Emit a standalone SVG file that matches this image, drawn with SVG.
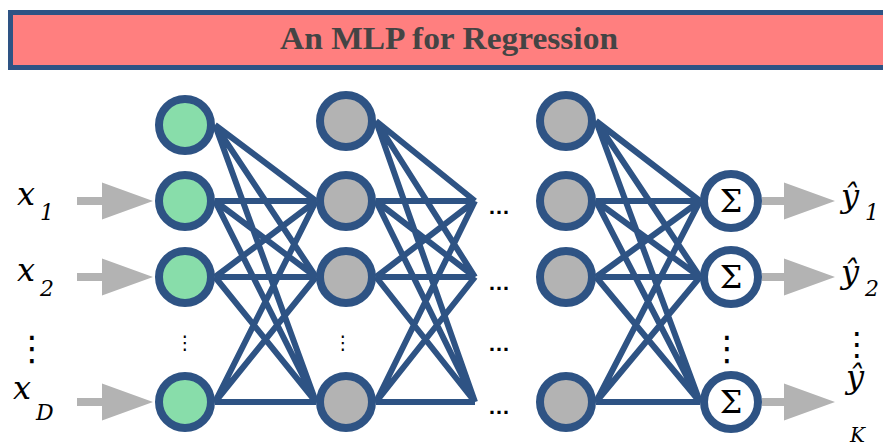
<svg xmlns="http://www.w3.org/2000/svg" width="883" height="446" viewBox="0 0 883 446">
<style>
.edge{stroke:#2E5384;stroke-width:6;fill:none}
.in{fill:#88DDAA;stroke:#2E5384;stroke-width:8}
.hid{fill:#B3B3B3;stroke:#2E5384;stroke-width:8}
.out{fill:#FFFFFF;stroke:#2E5384;stroke-width:8}
.arr{fill:#B3B3B3}
.math{font-family:"DejaVu Serif",serif;font-style:italic;fill:#000}
.sig{font-family:"DejaVu Serif",serif;font-size:32px;fill:#000;text-anchor:middle}
.vd{font-family:"DejaVu Sans",sans-serif;fill:#000;text-anchor:middle}
.hd{font-family:"Liberation Sans",sans-serif;font-weight:bold;font-size:22px;fill:#000}
</style>
<defs>
<path id="arrowIn" d="M0,-4 H25 V-18.5 L76,0 L25,18.5 V4 H0 Z"/>
</defs>
<g id="title">
<rect x="10.5" y="12.5" width="890" height="55" fill="#FF7F7F" stroke="#2E5384" stroke-width="5"/>
<text x="449" y="49" text-anchor="middle" font-family="'Liberation Serif',serif" font-weight="bold" font-size="31" fill="#444444" textLength="338" lengthAdjust="spacingAndGlyphs">An MLP for Regression</text>
</g>
<g id="connectors">
<path class="edge" d="M215,125 L316,201 M215,125 L316,277 M215,125 L316,402 M215,201 L316,201 M215,201 L316,277 M215,201 L316,402 M215,277 L316,201 M215,277 L316,277 M215,277 L316,402 M215,402 L316,201 M215,402 L316,277 M215,402 L316,402"/>
<path class="edge" d="M376,121 L475,201 M376,121 L475,277 M376,121 L475,402 M376,201 L475,201 M376,201 L475,277 M376,201 L475,402 M376,277 L475,201 M376,277 L475,277 M376,277 L475,402 M376,402 L475,201 M376,402 L475,277 M376,402 L475,402"/>
<path class="edge" d="M596,121 L700,201 M596,121 L700,277 M596,121 L700,402 M596,201 L700,201 M596,201 L700,277 M596,201 L700,402 M596,277 L700,201 M596,277 L700,277 M596,277 L700,402 M596,402 L700,201 M596,402 L700,277 M596,402 L700,402"/>
<use href="#arrowIn" class="arr" x="77" y="201"/>
<use href="#arrowIn" class="arr" x="77" y="277"/>
<use href="#arrowIn" class="arr" x="77" y="402"/>
<path class="arr" d="M762,197 H784 V182.5 L835,201 L784,219.5 V205 H762 Z"/>
<path class="arr" d="M762,273 H784 V258.5 L835,277 L784,295.5 V281 H762 Z"/>
<path class="arr" d="M762,398 H784 V383.5 L835,402 L784,420.5 V406 H762 Z"/>
</g>
<g id="input-labels">
<text class="math" x="17" y="205" font-size="32">x</text><text class="math" x="40" y="220" font-size="22">1</text>
<text class="math" x="17" y="281" font-size="32">x</text><text class="math" x="40" y="296" font-size="22">2</text>
<text class="vd" x="32" y="360" font-size="34">⋮</text>
<text class="math" x="13" y="399" font-size="32">x</text><text class="math" x="36" y="420" font-size="22">D</text>
</g>
<g id="input-layer">
<circle id="in0" class="in" cx="185" cy="125" r="26"/>
<circle id="in1" class="in" cx="185" cy="201" r="26"/>
<circle id="in2" class="in" cx="185" cy="277" r="26"/>
<text class="vd" x="185" y="349" font-size="19">⋮</text>
<circle id="in3" class="in" cx="185" cy="402" r="26"/>
</g>
<g id="hidden-layer-1">
<circle class="hid" cx="346" cy="121" r="26"/>
<circle class="hid" cx="346" cy="201" r="26"/>
<circle class="hid" cx="346" cy="277" r="26"/>
<text class="vd" x="343" y="349" font-size="19">⋮</text>
<circle class="hid" cx="346" cy="402" r="26"/>
</g>
<g id="ellipses">
<text class="hd" x="488" y="214">…</text>
<text class="hd" x="488" y="290">…</text>
<text class="hd" x="488" y="351">…</text>
<text class="hd" x="488" y="414">…</text>
</g>
<g id="hidden-layer-last">
<circle class="hid" cx="566" cy="121" r="26"/>
<circle class="hid" cx="566" cy="201" r="26"/>
<circle class="hid" cx="566" cy="277" r="26"/>
<circle class="hid" cx="566" cy="402" r="26"/>
</g>
<g id="output-layer">
<g id="out1"><circle class="out" cx="731" cy="201" r="27"/><text class="sig" x="731" y="212">Σ</text></g>
<g id="out2"><circle class="out" cx="731" cy="277" r="27"/><text class="sig" x="731" y="288">Σ</text></g>
<text class="vd" x="727" y="360" font-size="34">⋮</text>
<g id="out3"><circle class="out" cx="731" cy="402" r="27"/><text class="sig" x="731" y="413">Σ</text></g>
</g>
<g id="output-labels">
<text class="math" x="841" y="207" font-size="32">ŷ</text><text class="math" x="865" y="220" font-size="22">1</text>
<text class="math" x="841" y="283" font-size="32">ŷ</text><text class="math" x="865" y="296" font-size="22">2</text>
<text class="vd" x="857" y="355" font-size="32">⋮</text>
<text class="math" x="846" y="388" font-size="32">ŷ</text>
<text class="math" x="850" y="442" font-size="20">K</text>
</g>
</svg>
